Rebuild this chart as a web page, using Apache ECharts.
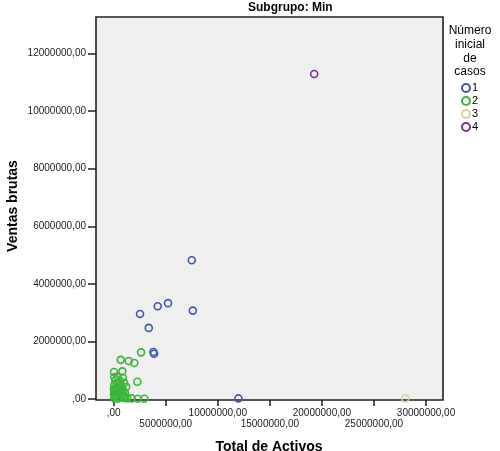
<!DOCTYPE html>
<html><head><meta charset="utf-8">
<script src="https://cdn.jsdelivr.net/npm/echarts@6/dist/echarts.min.js"></script>
<style>html,body{margin:0;padding:0;background:#fff}#c{width:500px;height:451px}</style>
</head><body><div id="c"></div>
<script>
const titleText = 'Subgrupo: Min';
const xName = 'Total de Activos';
const yName = 'Ventas brutas';
const legendTitle = 'Número\ninicial\nde\ncasos';
const groupNames = ['1', '2', '3', '4'];
const groupColors = ['#3E58AC', '#3DB53D', '#D6D1A3', '#7E3290'];
const xTicks = [0, 5000000, 10000000, 15000000, 20000000, 25000000, 30000000];
const xTicksUpper = [0, 10000000, 20000000, 30000000];
const xTicksLower = [5000000, 15000000, 25000000];
const yTicks = [0, 2000000, 4000000, 6000000, 8000000, 10000000, 12000000];

// [Total de Activos, Ventas brutas]
const group1 = [
  [7500000, 4820000], [4230000, 3220000], [5220000, 3330000], [7600000, 3070000],
  [2530000, 2950000], [3370000, 2470000], [3810000, 1630000], [3880000, 1570000],
  [11980000, 20000]
];
const group2 = [
  [2630000, 1620000], [670000, 1360000], [1440000, 1320000], [1980000, 1250000],
  [30000, 940000], [830000, 960000], [2270000, 600000], [1730000, 20000],
  [2310000, 10000], [2940000, 10000],
  [60000, 760000], [380000, 770000], [880000, 740000], [150000, 650000],
  [600000, 620000], [1000000, 560000], [300000, 530000], [50000, 480000],
  [700000, 450000], [1200000, 420000], [200000, 380000], [450000, 350000],
  [900000, 300000], [100000, 280000], [650000, 250000], [350000, 220000],
  [1100000, 200000], [30000, 180000], [500000, 150000], [800000, 120000],
  [250000, 100000], [150000, 60000], [600000, 50000], [1000000, 40000],
  [40000, 20000], [400000, 10000], [1300000, 15000], [200000, 300000],
  [550000, 400000], [20000, 350000], [120000, 120000], [750000, 330000],
  [300000, 420000], [1050000, 110000]
];
const group3 = [[28000000, 20000]];
const group4 = [[19260000, 11290000]];
const groups = [group1, group2, group3, group4];

function fmt(v) {
  if (v === 0) return ',00';
  return String(Math.round(v)) + ',00';
}

const chart = echarts.init(document.getElementById('c'), null, {renderer: 'canvas'});
const FONT = 'Liberation Sans, Arial, sans-serif';
const xRange = {min: -1700000, max: 31630000};
function xAxisDef(labels, margin, showTicks) {
  return {
    type: 'value', min: xRange.min, max: xRange.max, position: 'bottom',
    splitLine: {show: false}, axisLine: {show: false, onZero: false},
    axisTick: {show: showTicks, customValues: xTicks, length: 6, lineStyle: {color: '#222', width: 1.5}},
    axisLabel: {
      customValues: labels, color: '#222', fontFamily: FONT, fontSize: 10, margin: margin,
      hideOverlap: false, showMaxLabel: true, showMinLabel: true, formatter: fmt
    }
  };
}
chart.setOption({
  animation: false,
  backgroundColor: '#ffffff',
  grid: {
    left: 96, right: 57, top: 17, bottom: 51,
    show: true, backgroundColor: '#EFEFEF', borderColor: '#222', borderWidth: 1.6
  },
  xAxis: [xAxisDef(xTicksUpper, 8, true), xAxisDef(xTicksLower, 19, false)],
  yAxis: {
    type: 'value', min: -35000, max: 13270000,
    splitLine: {show: false}, axisLine: {show: false, onZero: false},
    axisTick: {show: true, customValues: yTicks, length: 8, lineStyle: {color: '#222', width: 1.5}},
    axisLabel: {customValues: yTicks, color: '#222', fontFamily: FONT, fontSize: 10, margin: 10, formatter: fmt}
  },
  legend: {
    orient: 'vertical', left: 461, top: 82, itemWidth: 8, itemHeight: 8, itemGap: 1,
    icon: 'circle', padding: 0,
    textStyle: {color: '#000', fontFamily: FONT, fontSize: 11, lineHeight: 12, padding: [0, 0, 0, -3]},
    data: groupNames
  },
  series: groups.map((g, i) => ({
    name: groupNames[i], type: 'scatter', xAxisIndex: 0, data: g, symbol: 'circle', symbolSize: 7,
    itemStyle: {color: 'rgba(0,0,0,0)', borderColor: groupColors[i], borderWidth: 1.6, opacity: 1}
  })),
  graphic: [
    {type: 'text', left: 248, top: 2, style: {text: titleText, fill: '#000', font: 'bold 12px ' + FONT}},
    {type: 'text', x: 470, y: 24, style: {text: legendTitle, fill: '#000', font: '12px ' + FONT, align: 'center', lineHeight: 13.7}},
    {type: 'text', x: 269, y: 440, style: {text: xName, fill: '#000', font: 'bold 14px ' + FONT, align: 'center'}},
    {type: 'text', x: 6, y: 206, rotation: Math.PI / 2, style: {text: yName, fill: '#000', font: 'bold 14px ' + FONT, align: 'center', verticalAlign: 'top'}}
  ]
});
</script></body></html>
